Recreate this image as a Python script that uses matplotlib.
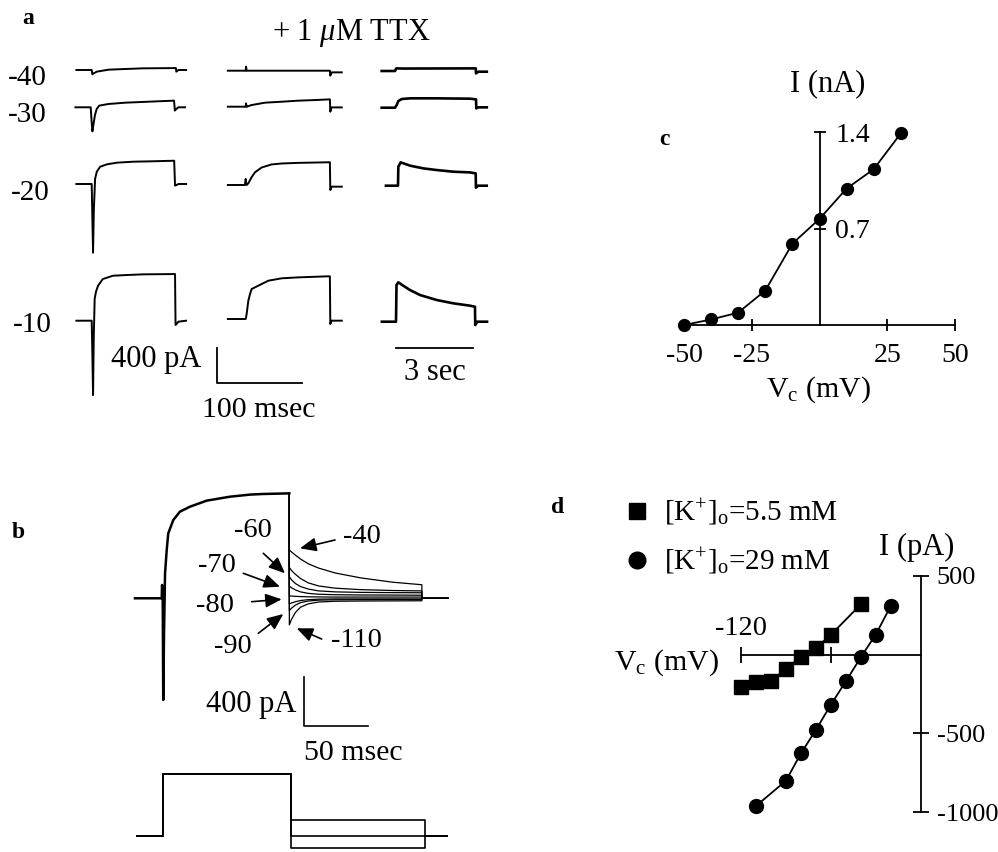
import matplotlib
matplotlib.use("Agg")
import matplotlib.pyplot as plt
from matplotlib.lines import Line2D

plt.rcParams["font.family"] = ["Liberation Serif", "DejaVu Serif"]
plt.rcParams["mathtext.fontset"] = "custom"
plt.rcParams["mathtext.rm"] = "Liberation Serif"
plt.rcParams["mathtext.it"] = "Liberation Serif:italic"
plt.rcParams["mathtext.bf"] = "Liberation Serif:bold"
plt.rcParams["axes.unicode_minus"] = False

# ---------------- data ----------------
# panel a: whole-cell currents, time (ms, or s for 3rd column) from step onset, current (pA)
rows = ["-40", "-30", "-20", "-10"]

ctrl_t = {
    "-40": [-18, 0, 0.8, 2, 6, 20, 60, 99, 99.5, 102, 111],
    "-30": [-18, 0, 1, 2, 3.5, 5, 7, 10, 21, 41, 61, 80, 98, 99, 100, 103, 111],
    "-20": [-18, 0, 0.8, 1.6, 2.5, 4, 6, 10, 18, 30, 49, 69, 97, 98, 99, 102, 111],
    "-10": [-18, 0, 0.8, 1.6, 2.4, 3.5, 5, 7.5, 13, 25, 41, 61, 98, 98.6, 99.5, 102, 111],
}
ctrl_i = {
    "-40": [0, 0, -50, -40, -19, 4, 19, 22, -19, 0, 0],
    "-30": [0, 0, -150, -275, -180, -90, -20, 19, 38, 53, 61, 69, 76, -38, -25, 0, 0],
    "-20": [0, 0, -400, -785, -300, 60, 141, 198, 225, 244, 255, 259, 266, -19, -15, 0, 0],
    "-10": [0, 0, -400, -850, -200, 250, 330, 400, 476, 514, 522, 530, 533, -49, -40, -11, 0],
}

ttx_t = {
    "-40": [-21, 0, 0.4, 1.2, 99, 99.5, 101, 113],
    "-30": [-21, 0, 0.4, 1.2, 7, 22.7, 42.3, 62, 81.5, 99, 99.5, 101, 113],
    "-20": [-21, -1, 0, 1, 3.1, 7, 10.9, 18.7, 30.5, 42.3, 62, 99, 99.5, 101, 113],
    "-10": [-21, -1.6, 0, 1.1, 3.1, 5.1, 7, 14.9, 26.7, 42.3, 62, 97, 99, 99.5, 101, 113],
}
ttx_i = {
    "-40": [0, 0, 46, 0, 0, -57, -19, -19],
    "-30": [0, 0, 38, 0, 19, 46, 57, 69, 76, 84, -57, -8, -8],
    "-20": [0, 0, 70, 0, 19, 90, 145, 200, 235, 246, 253, 260, -57, -19, -19],
    "-10": [0, 0, 0, 57, 210, 286, 343, 381, 438, 465, 476, 488, 488, -57, -19, -19],
}

long_t = {  # seconds
    "-40": [-0.52, 0, 0.05, 0.3, 3.15, 3.16, 3.25, 3.58],
    "-30": [-0.52, 0, 0.065, 0.13, 0.26, 0.585, 1.625, 2.925, 3.16, 3.17, 3.25, 3.58],
    "-20": [-0.47, 0, 0.013, 0.104, 0.468, 0.988, 1.508, 2.158, 2.808, 3.03, 3.04, 3.12, 3.46],
    "-10": [-0.55, 0, 0.02, 0.09, 0.286, 0.546, 0.936, 1.586, 2.236, 2.886, 3.08, 3.09, 3.17, 3.55],
}
long_i = {
    "-40": [0, 0, 30, 28, 30, -27, -8, -8],
    "-30": [0, 0, 30, 76, 99, 107, 107, 103, 95, -8, 4, 4],
    "-20": [0, 0, 217, 267, 229, 198, 179, 160, 152, 141, -23, 0, 0],
    "-10": [0, 0, 420, 450, 411, 362, 305, 248, 210, 183, 171, -38, 0, 0],
}

# panel b: step response (ms, pA) shared by all traces, then tails at different potentials
b_rise_t = [-20.8, 0, 0.3, 0.8, 1.2, 1.8, 2.6, 3.9, 5.1, 9.0, 14.2, 22, 35, 53.1, 68.8, 79, 99.3]
b_rise_i = [0, 0, 108, 0, -824, -300, 202, 391, 526, 634, 702, 742, 791, 823, 840, 845, 850]
b_tail_t = [99.3, 101, 104, 108, 114, 122, 135, 155, 180, 202.4]
b_tail_i = {
    -40: [392, 375, 350, 318, 280, 245, 205, 165, 130, 110],
    -50: [250, 225, 195, 160, 125, 100, 82, 70, 63, 60],
    -60: [175, 150, 120, 95, 75, 60, 52, 48, 46, 45],
    -70: [100, 85, 68, 52, 40, 33, 29, 27, 26, 25],
    -80: [20, 18, 16, 14, 12, 11, 10, 10, 10, 10],
    -90: [-45, -38, -28, -18, -11, -7, -5, -5, -5, -5],
    -100: [-100, -80, -55, -35, -22, -15, -12, -11, -10, -10],
    -110: [-215, -170, -115, -72, -45, -30, -24, -22, -21, -20],
}
b_end_t = 222.7
b_labels = ["-60", "-70", "-80", "-90", "-40", "-110"]

# voltage protocol (ms, mV)
v_hold = -80
v_step = 80
v_step_end = 99.1
v_tail_end = 203.6
v_start, v_stop = -20.2, 220.5
v_tail_env = [-40, -80, -110]

# panel c: I-V (mV, nA)
c_v = [-50, -40, -30, -20, -10, 0, 10, 20, 30]
c_i = [0.0, 0.04, 0.09, 0.25, 0.59, 0.77, 0.99, 1.13, 1.39]

# panel d: I-V at two [K+]o (mV, pA)
d_v_low = [-120, -110, -100, -90, -80, -70, -60, -40]
d_i_low = [-208, -176, -170, -89, -15, 42, 125, 318]
d_v_high = [-110, -90, -80, -70, -60, -50, -40, -30, -20]
d_i_high = [-960, -800, -627, -478, -318, -170, -17, 127, 308]

# ---------------- figure ----------------
W, H = 998, 852
fig = plt.figure(figsize=(W / 100, H / 100), dpi=100)


def place(x0, y0, sx, sy):
    # transparent axes over whole figure, data origin at pixel (x0, y0) from top-left,
    # sx / sy = data units per pixel
    ax = fig.add_axes([0, 0, 1, 1])
    ax.set_xlim(-x0 * sx, (W - x0) * sx)
    ax.set_ylim(-(H - y0) * sy, y0 * sy)
    ax.set_facecolor("none")
    ax.axis("off")
    return ax


def ftext(x, y, s, size=20, ha="center", **kw):
    fig.text(x / W, 1 - y / H, s, ha=ha, va="baseline", fontsize=size, **kw)


# panel a
ms_px, pa_px, s_px = 1.176, 11.43, 0.039
col1_org = {"-40": (91.7, 70), "-30": (90.7, 107.3), "-20": (91.7, 184), "-10": (91.7, 320.7)}
col2_org = {"-40": (245.7, 70.7), "-30": (245.7, 106.7), "-20": (245.7, 185), "-10": (245.7, 319)}
col3_org = {"-40": (395, 71), "-30": (395, 107.7), "-20": (398, 185.7), "-10": (396, 321.7)}

for r in rows:
    ax = place(*col1_org[r], ms_px, pa_px)
    ax.plot(ctrl_t[r], ctrl_i[r], color="k", lw=1.4)
    ax = place(*col2_org[r], ms_px, pa_px)
    ax.plot(ttx_t[r], ttx_i[r], color="k", lw=1.4)
    ax = place(*col3_org[r], s_px, pa_px)
    ax.plot(long_t[r], long_i[r], color="k", lw=1.9)

row_lab = {"-40": (47, 85), "-30": (47, 121.7), "-20": (50, 200), "-10": (52, 331.7)}
for r in rows:
    ftext(*row_lab[r], r, size=21, ha="right")

# scale bars a
ax = place(217.3, 383.3, ms_px, pa_px)
ax.plot([0, 0, 100], [400, 0, 0], color="k", lw=1.3)
ax = place(396, 348.3, s_px, pa_px)
ax.plot([0, 3], [0, 0], color="k", lw=1.3)

ftext(22, 24, "a", size=17, ha="left", weight="bold")
ftext(351, 40, r"+ 1 $\mu$M TTX", size=22)
ftext(156, 366.7, "400 pA", size=22)
ftext(259, 416.7, "100 msec", size=21.5)
ftext(435, 380, "3 sec", size=22)

# panel b
bms, bpa = 0.778, 8.1
axb = place(161.7, 598.3, bms, bpa)
for v, tail in b_tail_i.items():
    t = b_tail_t + [b_tail_t[-1], b_end_t]
    i = tail + [0, 0]
    axb.plot([b_rise_t[-1]] + t, [b_rise_i[-1]] + i, color="k", lw=0.9)
axb.plot(b_rise_t, b_rise_i, color="k", lw=1.8)

# voltage protocol
axv = place(163.3, 836 + v_hold * 0.39, bms, 1 / 0.39)
for v in v_tail_env:
    axv.plot([v_start, 0, 0, v_step_end, v_step_end, v_tail_end, v_tail_end, v_stop],
             [v_hold, v_hold, v_step, v_step, v, v, v_hold, v_hold], color="k", lw=1.2)

# scale bar b
ax = place(304, 726, bms, bpa)
ax.plot([0, 0, 50], [400, 0, 0], color="k", lw=1.2)

ftext(12, 538, "b", size=17, ha="left", weight="bold")
b_lab_pos = [(253, 536.7), (216.7, 571.7), (215, 611.7), (233, 653.3), (361.7, 543.3), (356, 646.7)]
for s, (x, y) in zip(b_labels, b_lab_pos):
    ftext(x, y, s, size=20.5)
ftext(251, 711.7, "400 pA", size=22)
ftext(353.5, 760, "50 msec", size=21.5)

arrows = [((335, 540), (300, 548.3)), ((263.3, 553.3), (285, 573.3)),
          ((243.3, 573.3), (280, 586.7)), ((251.7, 601.7), (281.7, 599.3)),
          ((258.3, 633.3), (283.3, 614)), ((321.7, 639), (296.7, 628.3))]
for (x0, y0), (x1, y1) in arrows:
    fig.add_artist(matplotlib.patches.FancyArrowPatch(
        (x0 / W, 1 - y0 / H), (x1 / W, 1 - y1 / H), transform=fig.transFigure,
        arrowstyle="-|>,head_length=0.7,head_width=0.3", mutation_scale=14,
        color="k", lw=1.2, shrinkA=0, shrinkB=0))

# panel c
axc = fig.add_axes([684 / W, 1 - 325 / H, (955 - 684) / W, (325 - 132) / H])
axc.set_xlim(-50, 50)
axc.set_ylim(0, 1.4)
axc.set_facecolor("none")
axc.plot(c_v, c_i, "-o", color="k", lw=1.3, ms=8.5, clip_on=False, zorder=3)
axc.spines["left"].set_visible(False)
axc.spines["top"].set_visible(False)
axc.spines["right"].set_position(("data", 0))
for s in ("right", "bottom"):
    axc.spines[s].set_linewidth(1.3)
axc.yaxis.tick_right()
axc.set_yticks([0.7, 1.4])
axc.set_yticklabels(["0.7", "1.4"])
axc.set_xticks([-50, -25, 25, 50])
axc.set_xticklabels(["-50", "-25", "25", "50"])
axc.tick_params(direction="inout", length=8.6, width=1.3, labelsize=20)
axc.tick_params(axis="x", pad=9)
axc.tick_params(axis="y", pad=7)
ftext(659, 145, "c", size=17, ha="left", weight="bold")
ftext(828, 91, "I (nA)", size=22)
ftext(818, 396.7, r"V$_{\mathrm{c}}$ (mV)", size=21.5)

# panel d
axd = fig.add_axes([741 / W, 1 - 812.3 / H, 179.7 / W, 236.6 / H])
axd.set_xlim(-120, 0)
axd.set_ylim(-1000, 500)
axd.set_facecolor("none")
axd.plot(d_v_low, d_i_low, "-s", color="k", lw=1.3, ms=9.5, clip_on=False, zorder=3)
axd.plot(d_v_high, d_i_high, "-o", color="k", lw=1.3, ms=10, clip_on=False, zorder=3)
axd.spines["left"].set_visible(False)
axd.spines["bottom"].set_visible(False)
axd.spines["top"].set_position(("data", 0))
for s in ("right", "top"):
    axd.spines[s].set_linewidth(1.3)
axd.xaxis.tick_top()
axd.yaxis.tick_right()
axd.set_xticks([-120, -60])
axd.set_xticklabels(["-120", ""])
axd.set_yticks([500, -500, -1000])
axd.set_yticklabels(["500", "-500", "-1000"])
axd.tick_params(direction="inout", length=11, width=1.3, labelsize=20.5)
axd.tick_params(axis="x", pad=4)
axd.tick_params(axis="y", labelsize=19, pad=6)
ftext(558, 513, "d", size=17, ha="center", weight="bold")
ftext(916.7, 555, "I (pA)", size=22)
ftext(666, 670, r"V$_{\mathrm{c}}$ (mV)", size=21.5)

handles = [Line2D([], [], marker="s", ls="none", color="k", ms=11),
           Line2D([], [], marker="o", ls="none", color="k", ms=12)]
labels = [r"[K$^{+}$]$_{\mathrm{o}}$=5.5 mM", r"[K$^{+}$]$_{\mathrm{o}}$=29 mM"]
fig.legend(handles, labels, loc="upper left", bbox_to_anchor=(625.7 / W, 1 - 497 / H),
           frameon=False, fontsize=21, borderpad=0, borderaxespad=0, handlelength=0.8,
           handletextpad=0.5, labelspacing=0.62)

fig.savefig("out.png", dpi=100)
